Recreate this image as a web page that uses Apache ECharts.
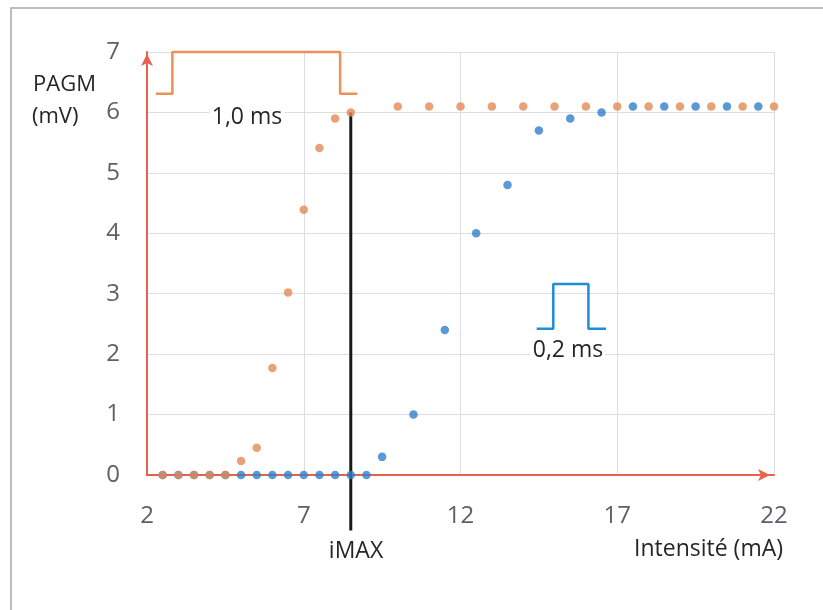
<!DOCTYPE html>
<html>
<head>
<meta charset="utf-8">
<script src="https://cdn.jsdelivr.net/npm/echarts@6/dist/echarts.min.js"></script>
<style>
html,body{margin:0;padding:0;background:#fff;}
#chart{width:823px;height:610px;}
</style>
</head>
<body>
<div id="chart"></div>
<script>
// ---- data ----
var blueX = [2.5,3,3.5,4,4.5,5,5.5,6,6.5,7,7.5,8,8.5,9,9.5,10.5,11.5,12.5,13.5,14.5,15.5,16.5,17.5,18.5,19.5,20.5,21.5];
var blueY = [0,0,0,0,0,0,0,0,0,0,0,0,0,0,0.3,1.0,2.4,4.0,4.8,5.7,5.9,6.0,6.1,6.1,6.1,6.1,6.1];
var orangeX = [2.5,3,3.5,4,4.5,5,5.5,6,6.5,7,7.5,8,8.5,10,11,12,13,14,15,16,17,18,19,20,21,22];
var orangeY = [0,0,0,0,0,0.23,0.45,1.77,3.02,4.39,5.41,5.9,6.0,6.1,6.1,6.1,6.1,6.1,6.1,6.1,6.1,6.1,6.1,6.1,6.1,6.1];
// pulse shapes (drawn in data coordinates)
var pulse10X = [2.28,2.81,2.81,8.16,8.16,8.71];
var pulse10Y = [6.31,6.31,7.0,7.0,6.31,6.31];
var pulse02X = [14.43,14.96,14.96,16.08,16.08,16.64];
var pulse02Y = [2.42,2.42,3.16,3.16,2.42,2.42];
// iMAX vertical line
var iMaxX = [8.5,8.5];
var iMaxY = [6.0,-0.92];
var xTicks = [2,7,12,17,22];
var yTicks = [0,1,2,3,4,5,6,7];

function zip(a,b){return a.map(function(v,i){return [v,b[i]];});}

var FONT = '"Open Sans"';
var chart = echarts.init(document.getElementById('chart'), null, {renderer:'canvas'});
var axisRed = '#E9604F';
var textStyle = function(txt, size, align){
  return {text:txt, font:size+'px '+FONT, fill:'#262626', textAlign:align||'center', textVerticalAlign:'middle'};
};
var option = {
  backgroundColor:'#ffffff',
  animation:false,
  grid:{left:147, top:52, right:49, bottom:135, containLabel:false},
  xAxis:{
    type:'value', min:xTicks[0], max:xTicks[xTicks.length-1], interval:5,
    axisLine:{show:true, onZero:false, lineStyle:{color:axisRed, width:2}, symbol:['none','arrow'], symbolSize:[9,12], symbolOffset:[0,-4]},
    axisTick:{show:false},
    axisLabel:{color:'#5B6169', fontSize:24, fontFamily:FONT, margin:29},
    splitLine:{show:true, lineStyle:{color:'#DDDDE6', width:1}}
  },
  yAxis:{
    type:'value', min:yTicks[0], max:yTicks[yTicks.length-1], interval:1,
    axisLine:{show:true, onZero:false, lineStyle:{color:axisRed, width:2}, symbol:['none','arrow'], symbolSize:[9,12], symbolOffset:[0,-2]},
    axisTick:{show:false},
    axisLabel:{color:'#5B6169', fontSize:24, fontFamily:FONT, margin:27},
    splitLine:{show:true, lineStyle:{color:'#DDDDE6', width:1}}
  },
  series:[
    {type:'line', data:zip(pulse10X,pulse10Y), symbol:'none', clip:false, z:3,
     lineStyle:{color:'#EB9159', width:2.5}},
    {type:'line', data:zip(pulse02X,pulse02Y), symbol:'none', clip:false, z:3,
     lineStyle:{color:'#1C8FD7', width:2.5}},
    {type:'line', data:zip(iMaxX,iMaxY), symbol:'none', clip:false, z:4,
     lineStyle:{color:'#1A1A1A', width:3}},
    {type:'scatter', data:zip(blueX,blueY), symbolSize:8.5, clip:false, z:5,
     itemStyle:{color:'#2F80CA'}},
    {type:'scatter', data:zip(orangeX,orangeY), symbolSize:8.5, clip:false, z:6,
     itemStyle:{color:'#E28A56'}}
  ],
  graphic:[
    {type:'rect', shape:{x:11, y:8, width:900, height:800}, style:{fill:'none', stroke:'#A8A8A8', lineWidth:1.5}, silent:true},
    {type:'text', x:33, y:85, z:10, style:textStyle('PAGM', 22, 'left')},
    {type:'text', x:32, y:117, z:10, style:textStyle('(mV)', 22, 'left')},
    {type:'text', x:247, y:117, z:10, style:Object.assign(textStyle('1,0 ms', 23), {backgroundColor:'#ffffff', padding:[0,2]})},
    {type:'text', x:568, y:350, z:10, style:Object.assign(textStyle('0,2 ms', 23), {backgroundColor:'#ffffff', padding:[0,2]})},
    {type:'text', x:356, y:551, z:10, style:textStyle('iMAX', 23)},
    {type:'text', x:783, y:549, z:10, style:textStyle('Intensité (mA)', 23, 'right')}
  ]
};
chart.setOption(option);
</script>
</body>
</html>
